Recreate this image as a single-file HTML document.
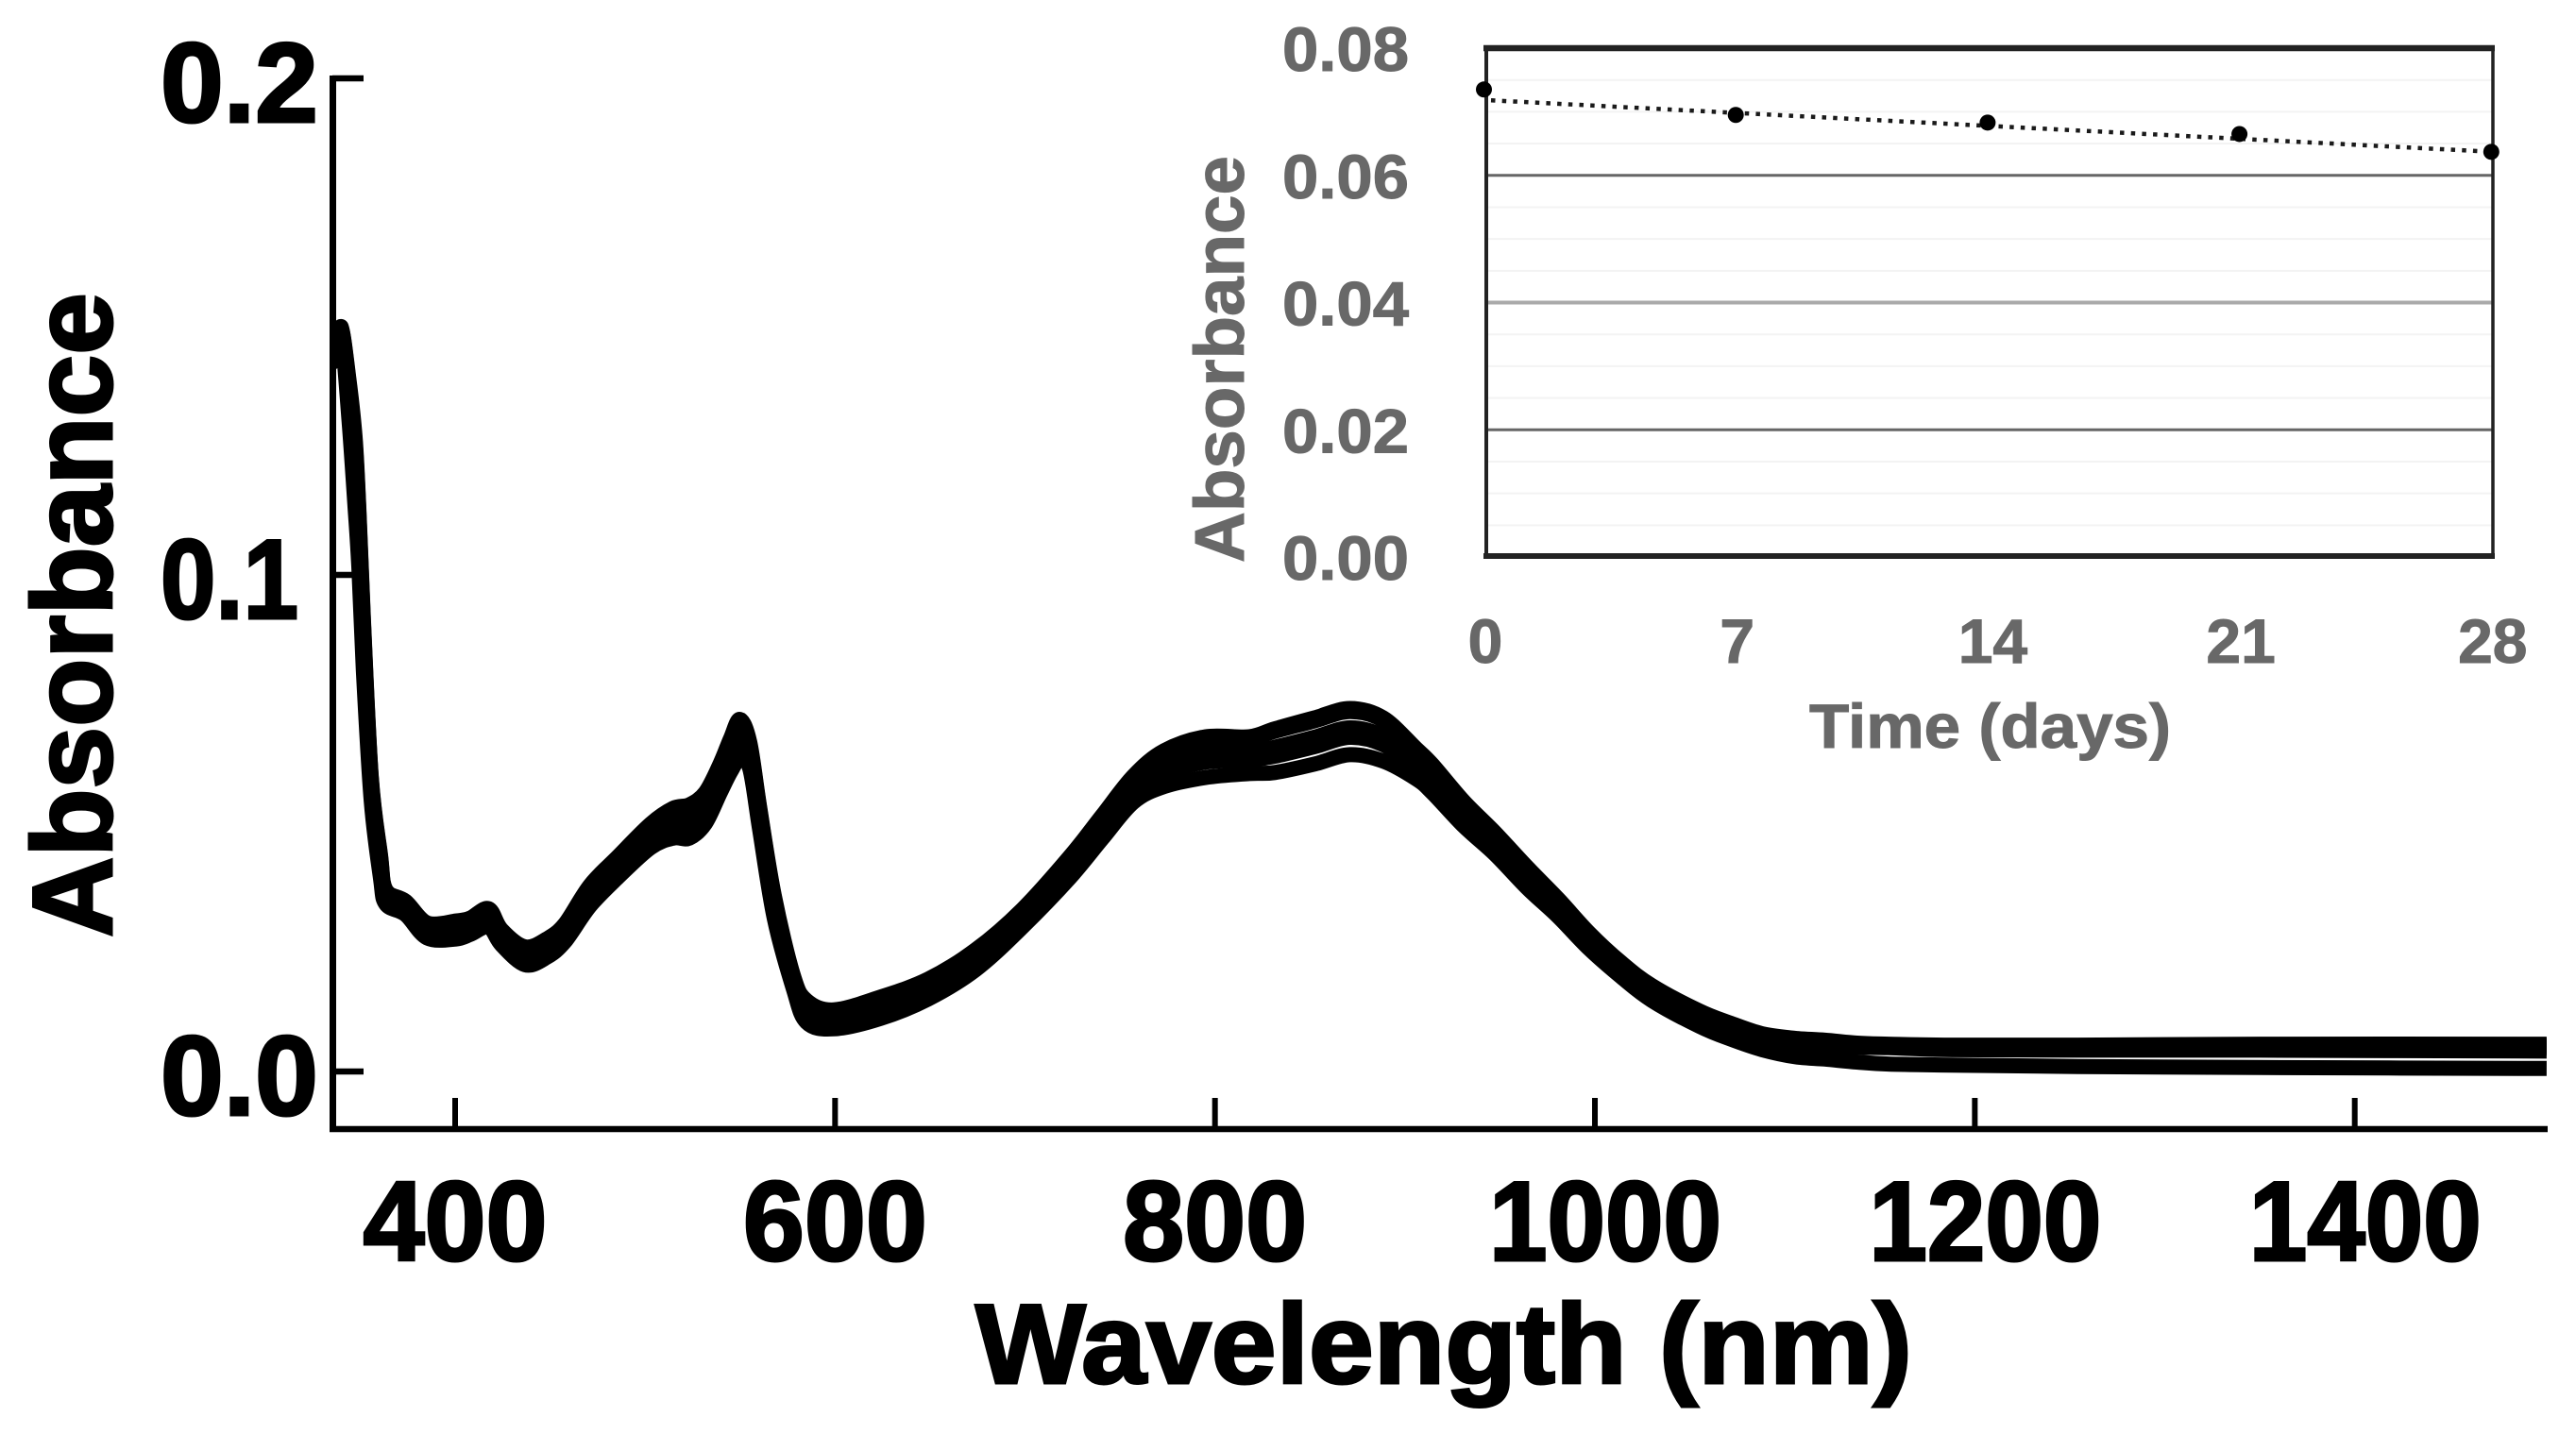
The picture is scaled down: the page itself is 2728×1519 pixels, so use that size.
<!DOCTYPE html>
<html lang="en">
<head>
<meta charset="utf-8">
<title>Absorbance spectra with stability inset</title>
<style>
html,body{margin:0;padding:0;background:#fff;width:2728px;height:1519px;overflow:hidden}
svg{display:block;position:absolute;left:0;top:0}
text{font-family:"Liberation Sans",sans-serif;font-weight:700}
.main{fill:#000;stroke:#000;stroke-width:3px;font-size:120px}
.inset{fill:#686868;stroke:#686868;stroke-width:1px;font-size:66px}
</style>
</head>
<body>
<svg id="chart" xmlns="http://www.w3.org/2000/svg" width="2728" height="1519" viewBox="0 0 2728 1519">
  <rect x="0" y="0" width="2728" height="1519" fill="#fff"/>
  <g id="inset"></g>
  <g id="main"></g>
  <text class="main" transform="translate(118,993) rotate(-90)" textLength="683" lengthAdjust="spacingAndGlyphs">Absorbance</text>
  <text class="main" x="1033" y="1465" textLength="992" lengthAdjust="spacingAndGlyphs">Wavelength (nm)</text>
  <text class="inset" style="font-size:74px" transform="translate(1317,596) rotate(-90)" textLength="431" lengthAdjust="spacingAndGlyphs">Absorbance</text>
  <text class="inset" x="1916" y="792" textLength="383" lengthAdjust="spacingAndGlyphs">Time (days)</text>
</svg>
<script>
// Main spectra data
var wavelengths = [338,340,344,347.3,349.3,351.7,355.8,360.7,363.5,373.9,385.3,400.5,408,417.6,424.4,436.8,448.2,457.7,471,486,503,514.8,523.3,531.7,539.4,545,549.9,555.1,560.3,568,578,585,599.3,624,649,674,698.7,723.6,740.5,757,773.3,795,818,831.5,852.3,871,888.6,906,914.5,931,947.5,964.5,980.6,997,1014,1030,1055,1071.6,1088,1105,1121,1138,1154.6,1188,1254,1350,1501];
var day0 = [.1429,.1500,.1397,.1278,.1135,.0913,.0595,.0437,.0366,.0343,.0299,.0303,.0309,.0328,.0286,.0251,.0267,.0297,.0375,.0434,.0499,.0530,.0537,.0562,.0619,.0671,.0709,.0663,.0532,.0354,.0194,.0143,.0124,.0150,.0186,.0245,.0327,.0433,.0515,.0595,.0646,.0674,.0674,.0690,.0712,.0731,.0712,.0650,.0618,.0544,.0481,.0411,.0348,.0279,.0219,.0173,.0122,.0097,.0076,.0067,.0063,.0057,.0055,.0053,.0053,.0055,.0055];
var day7 = [.1428,.1499,.1392,.1270,.1128,.0907,.0592,.0434,.0364,.0341,.0297,.0301,.0307,.0326,.0284,.0249,.0265,.0295,.0372,.0431,.0496,.0526,.0533,.0558,.0615,.0667,.0704,.0659,.0529,.0351,.0192,.0140,.0122,.0147,.0184,.0243,.0325,.0430,.0512,.0592,.0642,.0669,.0670,.0685,.0706,.0725,.0707,.0646,.0615,.0541,.0478,.0408,.0346,.0277,.0217,.0171,.0120,.0095,.0074,.0065,.0061,.0055,.0053,.0051,.0051,.0052,.0052];
var day14 = [.1423,.1497,.1364,.1219,.1085,.0869,.0574,.0417,.0354,.0332,.0286,.0288,.0295,.0312,.0273,.0236,.0251,.0282,.0357,.0416,.0479,.0505,.0510,.0536,.0594,.0643,.0675,.0641,.0513,.0335,.0183,.0125,.0108,.0132,.0169,.0228,.0312,.0415,.0495,.0573,.0616,.0640,.0643,.0653,.0673,.0692,.0675,.0624,.0594,.0523,.0463,.0393,.0333,.0266,.0207,.0160,.0110,.0087,.0069,.0062,.0057,.0052,.0051,.0048,.0047,.0048,.0048];
var day21 = [.1420,.1495,.1349,.1191,.1062,.0848,.0565,.0408,.0348,.0326,.0280,.0281,.0289,.0305,.0267,.0229,.0244,.0275,.0349,.0408,.0469,.0495,.0499,.0523,.0582,.0629,.0659,.0630,.0504,.0325,.0177,.0116,.0100,.0123,.0161,.0220,.0305,.0406,.0486,.0562,.0601,.0623,.0628,.0635,.0654,.0673,.0658,.0612,.0583,.0513,.0454,.0385,.0326,.0259,.0201,.0154,.0103,.0085,.0067,.0059,.0052,.0049,.0048,.0044,.0043,.0043,.0041];
var day28 = [.1415,.1492,.1319,.1137,.1017,.0808,.0546,.0390,.0337,.0316,.0269,.0267,.0276,.0291,.0255,.0215,.0230,.0261,.0333,.0392,.0451,.0470,.0470,.0499,.0560,.0603,.0629,.0610,.0487,.0308,.0167,.0099,.0086,.0107,.0146,.0205,.0291,.0390,.0468,.0542,.0574,.0592,.0600,.0602,.0619,.0638,.0625,.0589,.0561,.0494,.0437,.0369,.0312,.0247,.0190,.0143,.0091,.0065,.0044,.0030,.0025,.0019,.0015,.0013,.0010,.0008,.0006];
var mainXTicks = [400,600,800,1000,1200,1400];
var mainXTickLabels = ["400","600","800","1000","1200","1400"];
var mainYTicks = [0.2,0.1,0.0];
var mainYTickLabels = ["0.2","0.1","0.0"];

// Inset data
var insetDays = [0,7,14,21,28];
var insetValues = [.0735,.0695,.0683,.0665,.0637];
var trendDays = [0,28];
var trendValues = [.0718,.0637];
var insetXTickLabels = ["0","7","14","21","28"];
var insetYTicks = [0.08,0.06,0.04,0.02,0.00];
var insetYTickLabels = ["0.08","0.06","0.04","0.02","0.00"];
var insetMinorGrid = [.075,.07,.065,.055,.05,.045,.035,.03,.025,.015,.01,.005];
var insetMajorGrid = [.06,.04,.02];

var NS = "http://www.w3.org/2000/svg";
var mainG = document.getElementById("main");
var insetG = document.getElementById("inset");

function xMain(w){ return 482 + (w - 400) * 2.0117; }
function yMain(a){ return 1135 - a * 5260; }
function xInset(d){ return 1573 + d * 38.1; }
function yInset(a){ return 590 - a * 6737.5; }

function make(tag, parent, attrs){
  var el = document.createElementNS(NS, tag);
  for (var k in attrs) el.setAttribute(k, attrs[k]);
  parent.appendChild(el);
  return el;
}

function smoothPath(xs, ys){
  var pts = xs.map(function(w, i){ return [xMain(w), yMain(ys[i])]; });
  var d = "M" + pts[0][0].toFixed(1) + " " + pts[0][1].toFixed(1);
  for (var i = 0; i < pts.length - 1; i++){
    var p0 = pts[Math.max(0, i - 1)], p1 = pts[i], p2 = pts[i + 1], p3 = pts[Math.min(pts.length - 1, i + 2)];
    d += "C" + (p1[0] + (p2[0] - p0[0]) / 6).toFixed(1) + " " + (p1[1] + (p2[1] - p0[1]) / 6).toFixed(1) + " "
      + (p2[0] - (p3[0] - p1[0]) / 6).toFixed(1) + " " + (p2[1] - (p3[1] - p1[1]) / 6).toFixed(1) + " "
      + p2[0].toFixed(1) + " " + p2[1].toFixed(1);
  }
  return d;
}

// ---- main axes
var yAxisLine = make("line", mainG, {x1:352.5, y1:80, x2:352.5, y2:1199, stroke:"#000", "stroke-width":7});


var xAxisLine = make("line", mainG, {x1:349, y1:1196, x2:2698, y2:1196, stroke:"#000", "stroke-width":6.5});



mainYTicks.forEach(function(v, i){
  var t = make("line", mainG, {x1:352, y1:yMain(v), x2:385, y2:yMain(v), stroke:"#000", "stroke-width":6.5});
  
  
  var l = make("text", mainG, {x:170, y:yMain(v) + 46, "class":"main"});
  
  
  if (mainYTickLabels[i] === "0.1") { l.setAttribute('textLength', '146'); l.setAttribute('lengthAdjust', 'spacingAndGlyphs'); }
  l.textContent = mainYTickLabels[i];
});

mainXTicks.forEach(function(w, i){
  var t = make("line", mainG, {x1:xMain(w), y1:1163, x2:xMain(w), y2:1196, stroke:"#000", "stroke-width":6});
  
  
  var label = mainXTickLabels[i];
  var four = label.length > 3;
  var l = make("text", mainG, {x:xMain(w) + (four ? 11 : 0), y:1335, "class":"main", "text-anchor":"middle", textLength: four ? 246 : 195, lengthAdjust:"spacingAndGlyphs"});
  
  
  l.textContent = label;
});

// ---- spectra
[day0, day7, day14, day21, day28].forEach(function(series){
  var p = make("path", mainG, {d:smoothPath(wavelengths, series), fill:"none", stroke:"#000", "stroke-width":16, "stroke-linejoin":"round", "stroke-linecap":"butt"});
  
  
});

// ---- inset grid
insetMinorGrid.forEach(function(v){
  var g = make("line", insetG, {x1:1573, y1:yInset(v), x2:2640, y2:yInset(v), stroke:"#f3f3f3", "stroke-width":2});
  
  
});
var majorColors = ["#666","#aaa","#666"];
insetMajorGrid.forEach(function(v, i){
  var g = make("line", insetG, {x1:1573, y1:yInset(v), x2:2640, y2:yInset(v), stroke:majorColors[i], "stroke-width":i === 1 ? 4 : 3});
  
  
});

// ---- inset frame
var frameTop = make("line", insetG, {x1:1571, y1:51, x2:2642, y2:51, stroke:"#222", "stroke-width":6.5});


var frameBottom = make("line", insetG, {x1:1571, y1:589, x2:2642, y2:589, stroke:"#222", "stroke-width":6});


var frameLeft = make("line", insetG, {x1:1574, y1:48, x2:1574, y2:592, stroke:"#222", "stroke-width":4});


var frameRight = make("line", insetG, {x1:2640, y1:48, x2:2640, y2:592, stroke:"#222", "stroke-width":3.5});



// ---- inset tick labels
insetYTicks.forEach(function(v, i){
  var l = make("text", insetG, {x:1358, y:yInset(v) + 24, "class":"inset", textLength:134, lengthAdjust:"spacingAndGlyphs"});
  
  
  l.textContent = insetYTickLabels[i];
});
insetDays.forEach(function(d, i){
  var label = insetXTickLabels[i];
  var l = make("text", insetG, {x:xInset(d) + (label === "14" ? 4 : 0), y:702, "class":"inset", "text-anchor":"middle"});
  
  
  l.textContent = label;
});

// ---- inset trend and points
var trend = make("line", insetG, {x1:xInset(trendDays[0]) + 6, y1:yInset(trendValues[0]), x2:xInset(trendDays[1]), y2:yInset(trendValues[1]), stroke:"#1a1a1a", "stroke-width":4.5, "stroke-dasharray":"4.5 7.2"});


insetDays.forEach(function(d, i){
  var c = make("circle", insetG, {cx:xInset(d) - 1.5, cy:yInset(insetValues[i]), r:8.5, fill:"#000"});
  
  
});
</script>
</body>
</html>
